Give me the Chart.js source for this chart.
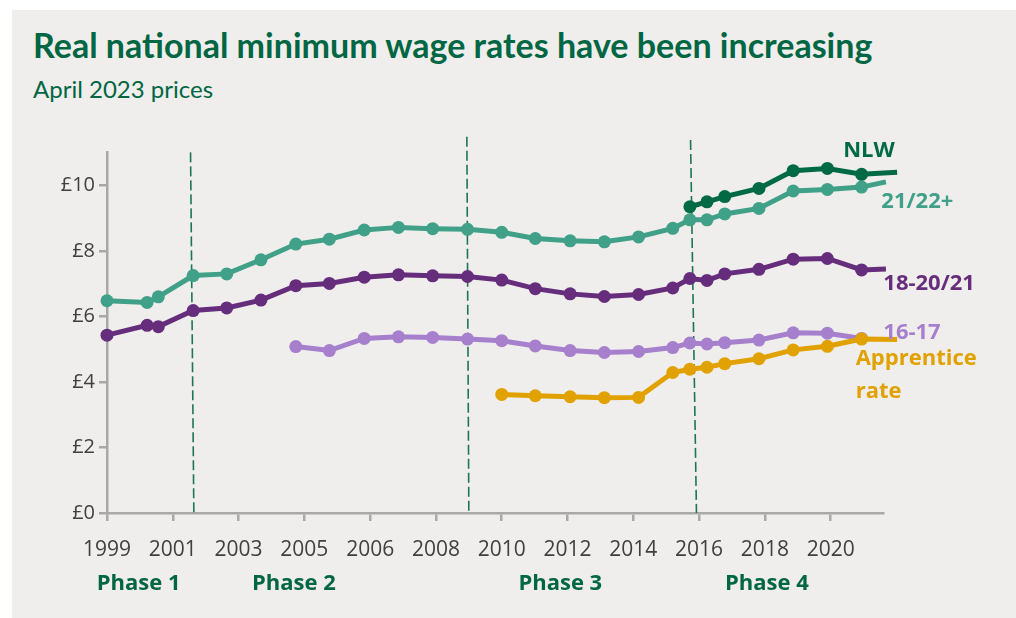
<!DOCTYPE html>
<html>
<head>
<meta charset="utf-8">
<title>Real national minimum wage rates</title>
<script src="https://cdn.jsdelivr.net/npm/chart.js@4"></script>
<style>
  html, body { margin: 0; padding: 0; background: #ffffff; }
  #wrap { position: relative; width: 1016px; height: 618px; overflow: hidden; }
  #panel { position: absolute; left: 12px; top: 10px; right: 0; bottom: 0; background: #efeeec; }
  #title { position: absolute; left: 33px; top: 24px; margin: 0; font: bold 34px Lato, sans-serif; color: #006643; white-space: nowrap; }
  #subtitle { position: absolute; left: 33px; top: 74px; margin: 0; font: 24px Lato, sans-serif; color: #006643; white-space: nowrap; }
  #chart { position: absolute; left: 0; top: 0; }
</style>
</head>
<body>
<div id="wrap">
  <div id="panel"></div>
  <h1 id="title">Real national minimum wage rates have been increasing</h1>
  <p id="subtitle">April 2023 prices</p>
  <canvas id="chart" width="1016" height="618"></canvas>
</div>
<script>
/* x positions are in axis units: one unit per labelled tick */
const yearLabels = ['1999', '2001', '2003', '2005', '2006', '2008', '2010', '2012', '2014', '2016', '2018', '2020'];
const xAxisEnd = 11.8;

// uprating dates, the last two are only line ends (no marker)
const rateDates = [0, 0.61, 0.78, 1.31, 1.82, 2.34, 2.87, 3.38, 3.91, 4.43, 4.95, 5.48, 6.00, 6.51,
  7.04, 7.56, 8.08, 8.60, 8.86, 9.12, 9.39, 9.91, 10.43, 10.95, 11.47, 11.84, 12.01];
const markerCount = 25;

const nlw = [null, null, null, null, null, null, null, null, null, null, null, null, null, null,
  null, null, null, null, 9.35, 9.50, 9.66, 9.91, 10.45, 10.52, 10.34, null, 10.40];
const rate2122 = [6.48, 6.43, 6.60, 7.25, 7.30, 7.73, 8.21, 8.36, 8.64, 8.72, 8.68, 8.66, 8.57, 8.38,
  8.31, 8.28, 8.43, 8.69, 8.95, 8.95, 9.13, 9.30, 9.83, 9.88, 9.95, 10.11, null];
const rate1820 = [5.43, 5.73, 5.69, 6.18, 6.26, 6.50, 6.94, 7.01, 7.20, 7.27, 7.24, 7.22, 7.11, 6.85,
  6.69, 6.61, 6.67, 6.87, 7.16, 7.10, 7.30, 7.44, 7.75, 7.77, 7.42, 7.45, null];
const rate1617 = [null, null, null, null, null, null, 5.08, 4.96, 5.33, 5.38, 5.36, 5.31, 5.26, 5.10,
  4.96, 4.90, 4.93, 5.05, 5.19, 5.16, 5.20, 5.28, 5.50, 5.49, 5.33, null, null];
const apprentice = [null, null, null, null, null, null, null, null, null, null, null, null, 3.62, 3.58,
  3.55, 3.52, 3.53, 4.29, 4.39, 4.45, 4.56, 4.71, 4.98, 5.09, 5.31, null, 5.30];

// phase boundaries (dashed), top and bottom ends
const phaseLinesX = [[1.27, 1.32], [5.47, 5.50], [8.87, 8.96]];
const phaseLinesTop = [11.01, 11.49, 11.39];
const phaseNames = ['Phase 1', 'Phase 2', 'Phase 3', 'Phase 4'];
const phaseCentres = [0.48, 2.84, 6.89, 10.03];

const C = {
  nlw: '#006a45',
  teal: '#40a088',
  purple: '#662d7c',
  lavender: '#a680cc',
  gold: '#e1a200',
  phase: '#1d7556',
  axis: '#a8a8a8',
  tick: '#404040'
};

// end-of-line labels, positions in axis units (x = left edge, y = baseline)
const seriesLabels = [
  { lines: ['NLW'], x: 11.19, y: 10.86, color: C.nlw },
  { lines: ['21/22+'], x: 11.77, y: 9.30, color: C.teal },
  { lines: ['18-20/21'], x: 11.80, y: 6.81, color: C.purple },
  { lines: ['16-17'], x: 11.80, y: 5.31, color: C.lavender },
  { lines: ['Apprentice', 'rate'], x: 11.38, y: 4.52, color: C.gold }
];

function toPoints(values) {
  return values.map((v, i) => ({ x: rateDates[i], y: v }));
}

function wageLine(label, values, color, order) {
  return {
    label: label,
    data: toPoints(values),
    borderColor: color,
    backgroundColor: color,
    borderWidth: 5,
    pointRadius: ctx => ctx.dataIndex < markerCount ? 6.5 : 0,
    pointHoverRadius: 6.5,
    pointBorderWidth: 0,
    spanGaps: true,
    tension: 0,
    clip: false,
    order: order
  };
}

const phaseLineSets = phaseLinesX.map((xs, i) => ({
  label: 'phase' + i,
  data: [{ x: xs[0], y: phaseLinesTop[i] }, { x: xs[1], y: 0 }],
  borderColor: C.phase,
  borderWidth: 1.6,
  borderDash: [10, 4],
  pointRadius: 0,
  clip: false,
  order: 10
}));

const labelPlugin = {
  id: 'labelPlugin',
  afterDatasetsDraw(chart) {
    const { ctx, scales: { x, y }, chartArea } = chart;
    ctx.save();
    ctx.font = 'bold 22px "Open Sans", sans-serif';
    ctx.textBaseline = 'alphabetic';
    ctx.textAlign = 'left';
    seriesLabels.forEach(l => {
      ctx.fillStyle = l.color;
      l.lines.forEach((t, k) => {
        ctx.fillText(t, x.getPixelForValue(l.x), y.getPixelForValue(l.y) + k * 33);
      });
    });
    ctx.textAlign = 'center';
    ctx.fillStyle = '#006643';
    phaseNames.forEach((p, i) => {
      ctx.fillText(p, x.getPixelForValue(phaseCentres[i]), chartArea.bottom + 77);
    });
    ctx.restore();
  }
};

Chart.defaults.font.family = '"Open Sans", sans-serif';

new Chart(document.getElementById('chart'), {
  type: 'line',
  data: {
    datasets: [
      wageLine('NLW', nlw, C.nlw, 0),
      wageLine('21/22+', rate2122, C.teal, 1),
      wageLine('18-20/21', rate1820, C.purple, 2),
      wageLine('Apprentice rate', apprentice, C.gold, 3),
      wageLine('16-17', rate1617, C.lavender, 4)
    ].concat(phaseLineSets)
  },
  options: {
    responsive: false,
    animation: false,
    events: [],
    layout: { padding: { top: 152.7, right: 132.7, bottom: 0, left: 0 } },
    plugins: { legend: { display: false }, tooltip: { enabled: false } },
    scales: {
      x: {
        type: 'linear',
        bounds: 'data',
        // range set after data limits so the line ends past the axis are still drawn
        afterDataLimits: s => { s.min = 0; s.max = xAxisEnd; },
        afterBuildTicks: s => { s.ticks = s.ticks.filter(t => t.value <= xAxisEnd); },
        afterFit: s => { s.height = 105; },
        border: { color: C.axis, width: 2.5 },
        grid: { drawOnChartArea: false, drawTicks: true, tickLength: 8, color: C.axis, lineWidth: 2.5 },
        ticks: {
          stepSize: 1,
          includeBounds: false,
          autoSkip: false,
          maxRotation: 0,
          padding: 16,
          color: C.tick,
          font: { size: 21 },
          callback: v => yearLabels[v] ?? ''
        }
      },
      y: {
        min: 0,
        max: 11,
        afterFit: s => { s.width = 107; },
        border: { color: C.axis, width: 2.5 },
        grid: { drawOnChartArea: false, drawTicks: true, tickLength: 8, color: C.axis, lineWidth: 2.5 },
        ticks: {
          stepSize: 2,
          includeBounds: false,
          padding: 4,
          color: C.tick,
          font: { size: 20 },
          callback: v => '£' + v
        }
      }
    }
  },
  plugins: [labelPlugin]
});
</script>
</body>
</html>
